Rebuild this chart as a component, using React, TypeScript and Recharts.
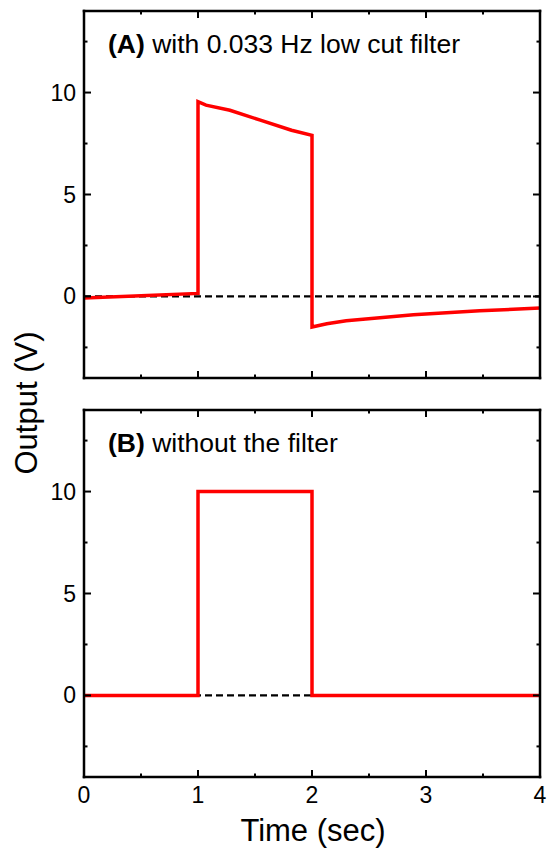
import React from 'react';
import { LineChart, Line, XAxis, YAxis } from 'recharts';

// panel A: with 0.033 Hz low cut filter
const timeA = [0, 0.5, 1, 1, 1.07, 1.28, 1.54, 1.82, 2, 2, 2.13, 2.3, 2.89, 3.47, 4];
const voltA = [-0.08, 0.03, 0.15, 9.55, 9.38, 9.13, 8.66, 8.15, 7.9, -1.5, -1.34, -1.19, -0.9, -0.7, -0.57];

// panel B: without the filter
const timeB = [0, 1, 1, 2, 2, 4];
const voltB = [0, 0, 10, 10, 0, 0];

// dashed zero reference
const baseT = [0, 4];
const baseV = [0, 0];

const xTicks = [0, 0.5, 1, 1.5, 2, 2.5, 3, 3.5, 4];
const yTicks = [-2.5, 0, 2.5, 5, 7.5, 10, 12.5];
const xDomain = [0, 4];
const yDomain = [-4, 14];

const FONT = 'Liberation Sans, Arial, Helvetica, sans-serif';
const isMajor = (v: number) => Number.isInteger(v);

const makeTick = (side: 'top' | 'bottom' | 'left' | 'right', showLabel: boolean) => (props: any) => {
  const { x, y, payload } = props;
  const v = payload.value;
  const len = isMajor(v) ? 7 : 3.5;
  let x2 = x;
  let y2 = y;
  if (side === 'bottom') y2 = y - len;
  if (side === 'top') y2 = y + len;
  if (side === 'left') x2 = x + len;
  if (side === 'right') x2 = x - len;
  const label = showLabel && isMajor(v) && (side === 'bottom' || v % 5 === 0);
  return (
    <g>
      <line x1={x} y1={y} x2={x2} y2={y2} stroke="#000" strokeWidth={2} />
      {label && side === 'bottom' && (
        <text x={x} y={y + 26} textAnchor="middle" fontSize={23} fontFamily={FONT} fill="#000">
          {v}
        </text>
      )}
      {label && side === 'left' && (
        <text x={x - 8} y={y + 8} textAnchor="end" fontSize={23} fontFamily={FONT} fill="#000">
          {v}
        </text>
      )}
    </g>
  );
};

const axisLine = { stroke: '#000', strokeWidth: 2.5, strokeLinecap: 'square' as const };

const Panel = ({ times, volts, bottomLabels, margin, height, tag, title }: any) => {
  const data = times.map((t: number, i: number) => ({ t, v: volts[i] }));
  const base = baseT.map((t, i) => ({ t, v: baseV[i] }));
  return (
    <div style={{ position: 'relative', width: 550, height }}>
      <LineChart width={550} height={height} margin={margin}>
        <XAxis xAxisId="b" dataKey="t" type="number" domain={xDomain} ticks={xTicks} interval={0}
          orientation="bottom" height={1} tickSize={0} tickMargin={0} tickLine={false}
          axisLine={axisLine} tick={makeTick('bottom', bottomLabels)} allowDataOverflow />
        <XAxis xAxisId="t" dataKey="t" type="number" domain={xDomain} ticks={xTicks} interval={0}
          orientation="top" height={1} tickSize={0} tickMargin={0} tickLine={false}
          axisLine={axisLine} tick={makeTick('top', false)} allowDataOverflow />
        <YAxis yAxisId="l" type="number" domain={yDomain} ticks={yTicks} interval={0}
          orientation="left" width={1} tickSize={0} tickMargin={0} tickLine={false}
          axisLine={axisLine} tick={makeTick('left', true)} allowDataOverflow />
        <YAxis yAxisId="r" type="number" domain={yDomain} ticks={yTicks} interval={0}
          orientation="right" width={1} tickSize={0} tickMargin={0} tickLine={false}
          axisLine={axisLine} tick={makeTick('right', false)} allowDataOverflow />
        <Line xAxisId="b" yAxisId="l" data={base} dataKey="v" type="linear" stroke="#000"
          strokeWidth={2.2} strokeDasharray="7 4" dot={false} isAnimationActive={false} />
        <Line xAxisId="b" yAxisId="l" data={data} dataKey="v" type="linear" stroke="#ff0000"
          strokeWidth={3.5} strokeLinejoin="miter" dot={false} isAnimationActive={false} />
        <Line xAxisId="t" yAxisId="r" data={base} dataKey="v" type="linear" stroke="none"
          dot={false} legendType="none" isAnimationActive={false} />
      </LineChart>
      <svg width={550} height={height} style={{ position: 'absolute', left: 0, top: 0, pointerEvents: 'none' }}>
        <text x={108} y={margin.top + 43} fontSize={26.5} fontFamily={FONT} fill="#000">
          <tspan fontWeight="bold">{tag}</tspan>
          {' ' + title}
        </text>
      </svg>
    </div>
  );
};

export default function App() {
  return (
    <div style={{ position: 'absolute', left: 0, top: 0, width: 550, height: 851, background: '#fff' }}>
      <Panel times={timeA} volts={voltA} bottomLabels={false} height={395}
        margin={{ top: 10, right: 9, bottom: 16, left: 83 }} tag="(A)" title="with 0.033 Hz low cut filter" />
      <Panel times={timeB} volts={voltB} bottomLabels={true} height={456}
        margin={{ top: 14, right: 9, bottom: 73, left: 83 }} tag="(B)" title="without the filter" />
      <svg width={550} height={851} style={{ position: 'absolute', left: 0, top: 0, pointerEvents: 'none' }}>
        <text x={313} y={841} textAnchor="middle" fontSize={31} fontFamily={FONT} fill="#000">
          Time (sec)
        </text>
        <text x={37} y={403} transform="rotate(-90 37 403)" textAnchor="middle" fontSize={31}
          fontFamily={FONT} fill="#000">
          Output (V)
        </text>
      </svg>
    </div>
  );
}
